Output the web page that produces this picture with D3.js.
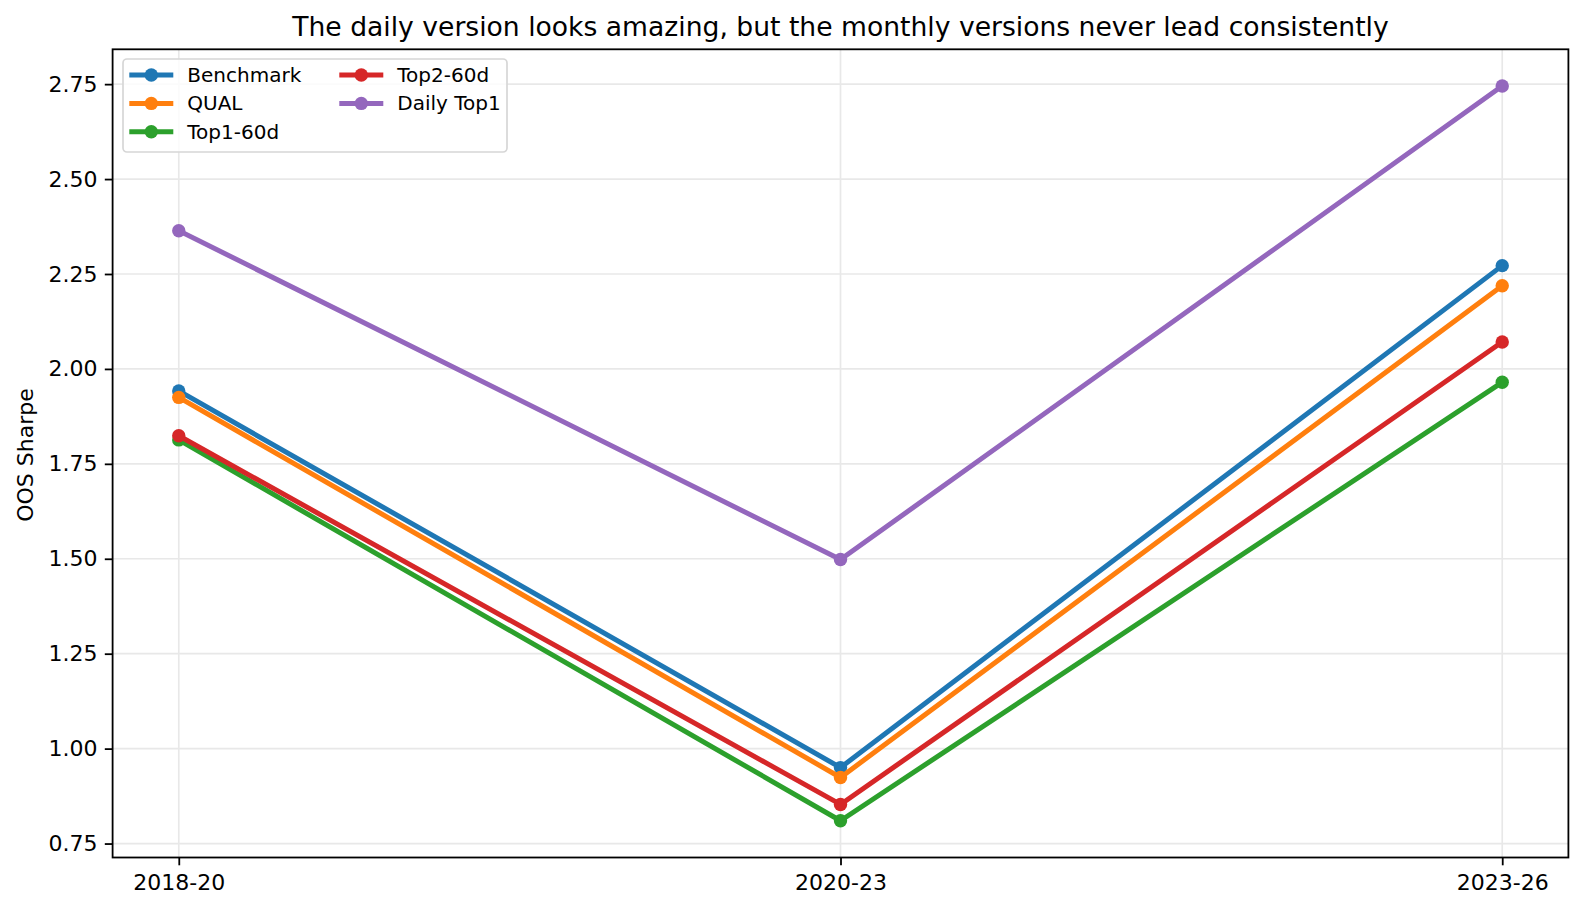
<!DOCTYPE html>
<html>
<head>
<meta charset="utf-8">
<script src="https://cdn.jsdelivr.net/npm/d3@7"></script>
<style>
  body { margin: 0; background: #fff; }
  svg text { font-family: "DejaVu Sans", sans-serif; fill: #000; }
</style>
</head>
<body>
<script>
// chart values
var periods = ["2018-20", "2020-23", "2023-26"];
var seriesNames = ["Benchmark", "QUAL", "Top1-60d", "Top2-60d", "Daily Top1"];
var benchmark = [1.942, 0.950, 2.272];
var qual = [1.925, 0.924, 2.219];
var top1_60d = [1.813, 0.810, 1.965];
var top2_60d = [1.824, 0.853, 2.071];
var dailyTop1 = [2.364, 1.498, 2.745];
var yTicks = [0.75, 1.00, 1.25, 1.50, 1.75, 2.00, 2.25, 2.50, 2.75];
var colors = ["#1f77b4", "#ff7f0e", "#2ca02c", "#d62728", "#9467bd"];

var allSeries = [benchmark, qual, top1_60d, top2_60d, dailyTop1];

var width = 1584,
    height = 913;
// plot area edges (window.top is read-only, so no "top" here)
var plotL = 112.6, plotR = 1568.4, plotT = 49.3, plotB = 857.5;

var svg = d3.select("body").append("svg")
    .attr("width", width)
    .attr("height", height);

var x = d3.scalePoint()
    .domain(periods)
    .range([plotL, plotR])
    .padding(0.1);

var ext = d3.extent(d3.merge(allSeries));
var pad = (ext[1] - ext[0]) * 0.05;
var y = d3.scaleLinear()
    .domain([ext[0] - pad, ext[1] + pad])
    .range([plotB, plotT]);

// grid
var grid = svg.append("g").attr("class", "grid");
grid.selectAll(".gy")
    .data(yTicks)
    .enter().append("line")
    .attr("x1", plotL).attr("x2", plotR)
    .attr("y1", function(d) { return y(d); })
    .attr("y2", function(d) { return y(d); })
    .attr("stroke", "#e8e8e8")
    .attr("stroke-width", 1.7);
grid.selectAll(".gx")
    .data(periods)
    .enter().append("line")
    .attr("y1", plotT).attr("y2", plotB)
    .attr("x1", function(d) { return x(d); })
    .attr("x2", function(d) { return x(d); })
    .attr("stroke", "#e8e8e8")
    .attr("stroke-width", 1.7);

// axes
var yAxis = d3.axisLeft(y)
    .tickValues(yTicks)
    .tickFormat(d3.format(".2f"))
    .tickSize(7.8)
    .tickPadding(7.4);
var xAxis = d3.axisBottom(x)
    .tickSize(7.8)
    .tickPadding(9);

var gy = svg.append("g")
    .attr("transform", "translate(" + plotL + ",0)")
    .call(yAxis);
var gx = svg.append("g")
    .attr("transform", "translate(0," + plotB + ")")
    .call(xAxis);
[gx, gy].forEach(function(g) {
    g.select(".domain").remove();
    g.selectAll(".tick line").attr("stroke", "#000").attr("stroke-width", 1.8);
    g.selectAll(".tick text")
        .style("font-size", "22px")
        .style("font-family", "DejaVu Sans");
});

// lines and markers
var line = d3.line()
    .x(function(d, i) { return x(periods[i]); })
    .y(function(d) { return y(d); });

allSeries.forEach(function(s, k) {
    var g = svg.append("g");
    g.append("path")
        .datum(s)
        .attr("d", line)
        .attr("fill", "none")
        .attr("stroke", colors[k])
        .attr("stroke-width", 5)
        .attr("stroke-linejoin", "round")
        .attr("stroke-linecap", "square");
    g.selectAll("circle")
        .data(s)
        .enter().append("circle")
        .attr("cx", function(d, i) { return x(periods[i]); })
        .attr("cy", function(d) { return y(d); })
        .attr("r", 6.7)
        .attr("fill", colors[k]);
});

// frame
svg.append("rect")
    .attr("x", plotL).attr("y", plotT)
    .attr("width", plotR - plotL).attr("height", plotB - plotT)
    .attr("fill", "none")
    .attr("stroke", "#000")
    .attr("stroke-width", 1.8);

// title
svg.append("text")
    .attr("x", (plotL + plotR) / 2)
    .attr("y", 36)
    .attr("text-anchor", "middle")
    .style("font-size", "26.6px")
    .text("The daily version looks amazing, but the monthly versions never lead consistently");

// y label
svg.append("text")
    .attr("transform", "translate(33,455) rotate(-90)")
    .attr("text-anchor", "middle")
    .style("font-size", "22px")
    .text("OOS Sharpe");

// legend
var lg = svg.append("g").attr("class", "legend");
lg.append("rect")
    .attr("x", 123).attr("y", 59)
    .attr("width", 384).attr("height", 93)
    .attr("rx", 4)
    .attr("fill", "#fff")
    .attr("fill-opacity", 0.8)
    .attr("stroke", "#d6d6d6")
    .attr("stroke-width", 1.7);

var colX = [129.3, 339.3];
var rowY = [75, 103.4, 131.7];
seriesNames.forEach(function(name, k) {
    var cx = colX[k < 3 ? 0 : 1];
    var cy = rowY[k < 3 ? k : k - 3];
    lg.append("line")
        .attr("x1", cx).attr("x2", cx + 44)
        .attr("y1", cy).attr("y2", cy)
        .attr("stroke", colors[k])
        .attr("stroke-width", 5);
    lg.append("circle")
        .attr("cx", cx + 22).attr("cy", cy)
        .attr("r", 6.7)
        .attr("fill", colors[k]);
    lg.append("text")
        .attr("x", cx + 58)
        .attr("y", cy + 7)
        .style("font-size", "20px")
        .text(name);
});
</script>
</body>
</html>
